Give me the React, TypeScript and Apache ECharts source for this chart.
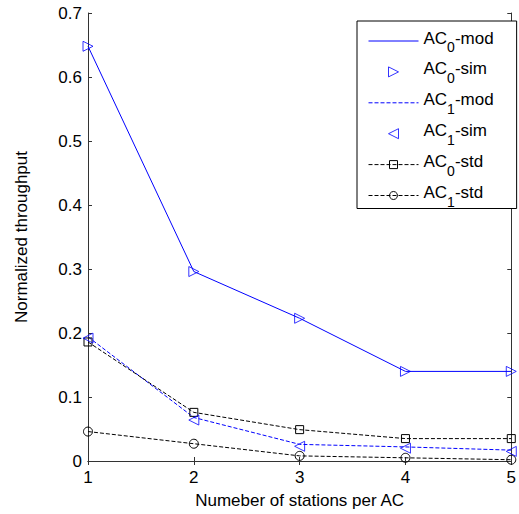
import React, { useEffect, useRef } from "react";
import * as echarts from "echarts";

const xValues = [1, 2, 3, 4, 5];
const ac0Mod = [0.648, 0.296, 0.223, 0.14, 0.14];
const ac0Sim = [0.648, 0.296, 0.223, 0.14, 0.14];
const ac1Mod = [0.194, 0.068, 0.026, 0.022, 0.017];
const ac1Sim = [0.192, 0.064, 0.023, 0.02, 0.015];
const ac0Std = [0.186, 0.076, 0.049, 0.035, 0.035];
const ac1Std = [0.046, 0.027, 0.008, 0.005, 0.002];
const seriesNames = ["AC0-mod", "AC0-sim", "AC1-mod", "AC1-sim", "AC0-std", "AC1-std"];
const yTicks = { min: 0, max: 0.7, interval: 0.1 };

const FONT = "'Liberation Sans', Arial, sans-serif";
const BLUE = "#0000ff";
const BLACK = "#000000";
const RIGHT_TRI = "path://M0,0 L10,5 L0,10 Z";
const LEFT_TRI = "path://M10,0 L0,5 L10,10 Z";

const pairs = (ys: number[]) => xValues.map((x, i) => [x, ys[i]]);

export default function App() {
  const ref = useRef<HTMLDivElement>(null);
  useEffect(() => {
    if (!ref.current) return;
    const chart = echarts.init(ref.current, null, { renderer: "svg" });
    const axisLine = { show: true, lineStyle: { color: "#333", width: 1 } };
    const tick = { show: true, inside: true, length: 4, lineStyle: { color: "#333" } };
    const clear = "rgba(0,0,0,0)";
    const triStyle = { color: clear, borderColor: BLUE, borderWidth: 1 };
    const noSym = { color: clear, borderWidth: 0 };
    const stdSym = { color: clear, borderColor: BLACK, borderWidth: 1 };
    const blueSolid = { color: BLUE, width: 1, type: "solid" };
    const blueDash = { color: BLUE, width: 1, type: [4, 2] };
    const blackDash = { color: BLACK, width: 1, type: [4, 2] };
    const legendStyles: Record<string, any> = {
      "AC0-mod": { itemStyle: noSym, lineStyle: blueSolid },
      "AC0-sim": { icon: RIGHT_TRI, itemStyle: triStyle },
      "AC1-mod": { itemStyle: noSym, lineStyle: blueDash },
      "AC1-sim": { icon: LEFT_TRI, itemStyle: triStyle },
      "AC0-std": { itemStyle: stdSym, lineStyle: blackDash },
      "AC1-std": { itemStyle: stdSym, lineStyle: blackDash },
    };
    const legendData = seriesNames.map((n) => ({ name: n, ...legendStyles[n] }));
    chart.setOption({
      animation: false,
      backgroundColor: "#fff",
      textStyle: { fontFamily: FONT },
      grid: { left: 88, right: 4, top: 13, bottom: 51, show: false },
      xAxis: [
        {
          type: "value", min: 1, max: 5, interval: 1,
          name: "Numeber of stations per AC", nameLocation: "middle", nameGap: 31,
          nameTextStyle: { fontSize: 17, color: "#000", fontFamily: FONT },
          axisLine, axisTick: tick, splitLine: { show: false },
          axisLabel: { fontSize: 17, color: "#000", margin: 8, fontFamily: FONT },
        },
        {
          type: "value", min: 1, max: 5, interval: 1, position: "top",
          axisLine, axisTick: tick, splitLine: { show: false }, axisLabel: { show: false },
        },
      ],
      yAxis: [
        {
          type: "value", min: yTicks.min, max: yTicks.max, interval: yTicks.interval,
          name: "Normalized throughput", nameLocation: "middle", nameGap: 58,
          nameTextStyle: { fontSize: 17, color: "#000", fontFamily: FONT },
          axisLine, axisTick: tick, splitLine: { show: false },
          axisLabel: { fontSize: 17, color: "#000", margin: 6, fontFamily: FONT, formatter: (v: number) => (v === 0 ? "0" : v.toFixed(1)) },
        },
        {
          type: "value", min: yTicks.min, max: yTicks.max, interval: yTicks.interval, position: "right",
          axisLine, axisTick: tick, splitLine: { show: false }, axisLabel: { show: false },
        },
      ],
      legend: {
        orient: "vertical",
        left: 357,
        top: 21,
        padding: [1, 23, 0, 11],
        itemWidth: 50,
        itemHeight: 10,
        itemGap: -1.1,
        backgroundColor: "#fff",
        borderColor: "#000",
        borderWidth: 1,
        borderRadius: 0,
        symbolKeepAspect: true,
        data: legendData,
        formatter: (name: string) => name.replace(/AC(\d)/, "AC{s|$1}"),
        textStyle: {
          fontSize: 17, lineHeight: 16, color: "#000", fontFamily: FONT, padding: [0, 0, 6, 0],
          rich: { s: { fontSize: 14, lineHeight: 16, fontFamily: FONT, color: "#000", padding: [18, 0, 0, 0] } },
        },
      },
      series: [
        {
          name: "AC0-mod", type: "line", data: pairs(ac0Mod), symbol: "none",
          itemStyle: noSym, lineStyle: blueSolid, z: 2,
        },
        {
          name: "AC0-sim", type: "scatter", data: pairs(ac0Sim), symbol: "triangle", symbolSize: 10, symbolRotate: -90,
          itemStyle: triStyle, z: 3,
        },
        {
          name: "AC1-mod", type: "line", data: pairs(ac1Mod), symbol: "none",
          itemStyle: noSym, lineStyle: blueDash, z: 2,
        },
        {
          name: "AC1-sim", type: "scatter", data: pairs(ac1Sim), symbol: "triangle", symbolSize: 10, symbolRotate: 90,
          itemStyle: triStyle, z: 3,
        },
        {
          name: "AC0-std", type: "line", data: pairs(ac0Std), symbol: "rect", symbolSize: 8, showSymbol: true,
          itemStyle: stdSym, lineStyle: blackDash, z: 2,
        },
        {
          name: "AC1-std", type: "line", data: pairs(ac1Std), symbol: "circle", symbolSize: 9, showSymbol: true,
          itemStyle: stdSym, lineStyle: blackDash, z: 2,
        },
      ],
    });
    return () => chart.dispose();
  }, []);
  return <div ref={ref} style={{ position: "fixed", left: 0, top: 0, width: 519, height: 514 }} />;
}
